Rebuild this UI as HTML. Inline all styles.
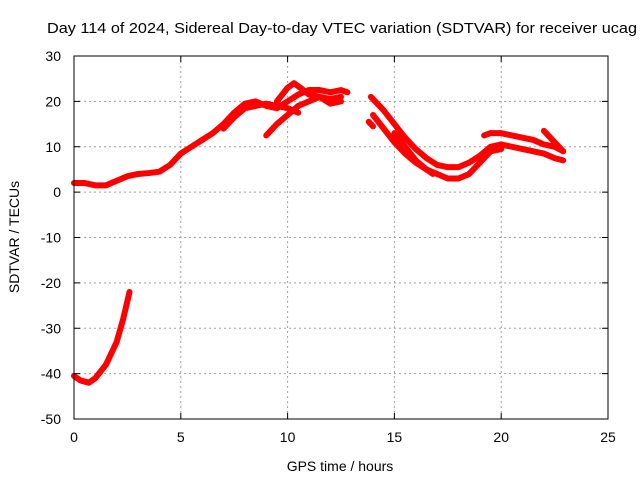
<!DOCTYPE html>
<html><head><meta charset="utf-8"><style>
body{margin:0;background:#fff;}
svg text{font-family:"Liberation Sans",sans-serif;font-size:14px;fill:#000;}
</style></head><body>
<svg id="chart" width="640" height="480" viewBox="0 0 640 480">
<text x="47" y="33" textLength="590" lengthAdjust="spacingAndGlyphs" style="font-size:15px">Day 114 of 2024, Sidereal Day-to-day VTEC variation (SDTVAR) for receiver ucag</text>
<text x="340" y="471" text-anchor="middle">GPS time / hours</text>
<text transform="translate(19,237) rotate(-90)" text-anchor="middle">SDTVAR / TECUs</text>
<g id="grid"></g><g id="series"></g><g id="axes"></g>
</svg>
<script>
const xTicks=[0,5,10,15,20,25];
const yTicks=[-50,-40,-30,-20,-10,0,10,20,30];
const seriesA=[[0,2],[0.5,2],[1,1.5],[1.5,1.5],[2,2.5],[2.5,3.5],[3,4],[3.5,4.2],[4,4.5],[4.5,6],[5,8.5],[5.5,10],[6,11.5],[6.5,13],[7,15],[7.5,17.5],[8,19.5],[8.5,20],[9,19],[9.5,18.5],[10,20],[10.5,21.5],[11,22.5],[11.5,22.5],[12,22],[12.5,22.5],[12.8,22]];
const seriesB=[[7,14],[7.5,16.5],[8,18.5],[8.5,19],[9,19.5],[9.5,19],[10,18.5],[10.5,17.5]];
const seriesC=[[9,12.5],[9.5,15],[10,17],[10.5,19],[11,20],[11.5,21],[12,20.5],[12.5,21]];
const seriesD=[[9.5,20],[10,23],[10.3,24],[10.6,23],[11,21.5],[11.5,21],[12,19.5],[12.5,20]];
const seriesE=[[13.9,21],[14.5,18],[15,15],[15.5,12],[16,9.5],[16.5,7.5],[17,6],[17.5,5.5],[18,5.5],[18.5,6.5],[19,8],[19.5,10],[20,10.5],[20.5,10],[21,9.5],[21.5,9],[22,8.5],[22.5,7.5],[22.9,7]];
const seriesF=[[14,17],[14.5,14],[15,11],[15.5,8.5],[16,6.5],[16.5,5],[17,4],[17.5,3],[18,3],[18.5,4],[19,6.5],[19.5,9],[20,9.5]];
const seriesG=[[19.2,12.5],[19.5,13],[20,13],[20.5,12.5],[21,12],[21.5,11.5],[22,10.5],[22.5,10],[22.9,9]];
const seriesH=[[22,13.5],[22.5,11],[22.9,9]];
const seriesI=[[13.8,15.5],[14,14.5]];
const seriesJ=[[15,13],[15.5,10],[16,7],[16.5,5],[16.8,4]];
const seriesK=[[0,-40.5],[0.3,-41.5],[0.7,-42],[1,-41],[1.5,-38],[2,-33],[2.3,-28],[2.6,-22]];
const allSeries=[seriesA,seriesB,seriesC,seriesD,seriesE,seriesF,seriesG,seriesH,seriesI,seriesJ,seriesK];
const L=74,R=608,T=56,B=419;
const sx=v=>L+(v-0)/25*(R-L);
const sy=v=>B-(v+50)/80*(B-T);
const NS="http://www.w3.org/2000/svg";
function mk(t,a,p){const e=document.createElementNS(NS,t);for(const k in a)e.setAttribute(k,a[k]);p.appendChild(e);return e;}
const grid=document.getElementById('grid'),axes=document.getElementById('axes'),ser=document.getElementById('series');
xTicks.forEach(v=>{
 if(v>0&&v<25){const g=mk('line',{x1:sx(v),x2:sx(v),y1:T,y2:B,stroke:'#a0a0a0','stroke-dasharray':'2,3'},grid);
 
 }
 mk('line',{x1:sx(v),x2:sx(v),y1:B,y2:B-6,stroke:'#000'},axes);
 mk('line',{x1:sx(v),x2:sx(v),y1:T,y2:T+6,stroke:'#000'},axes);
 const t=mk('text',{x:sx(v),y:B+23,'text-anchor':'middle'},axes);t.textContent=v;
 
 
});
yTicks.forEach(v=>{
 if(v>-50&&v<30){const g=mk('line',{x1:L,x2:R,y1:sy(v),y2:sy(v),stroke:'#a0a0a0','stroke-dasharray':'2,3'},grid);
 
 }
 mk('line',{x1:L,x2:L+6,y1:sy(v),y2:sy(v),stroke:'#000'},axes);
 mk('line',{x1:R,x2:R-6,y1:sy(v),y2:sy(v),stroke:'#000'},axes);
 const t=mk('text',{x:L-13,y:sy(v)+5,'text-anchor':'end'},axes);t.textContent=v;
 
 
});
const frame=mk('rect',{x:L,y:T,width:R-L,height:B-T,fill:'none',stroke:'#000'},axes);


allSeries.forEach(s=>{
 const p=mk('polyline',{points:s.map(d=>sx(d[0])+','+sy(d[1])).join(' '),fill:'none',stroke:'#ff0000','stroke-width':6,'stroke-linejoin':'round','stroke-linecap':'round'},ser);
 
 
});
</script>
</body></html>
